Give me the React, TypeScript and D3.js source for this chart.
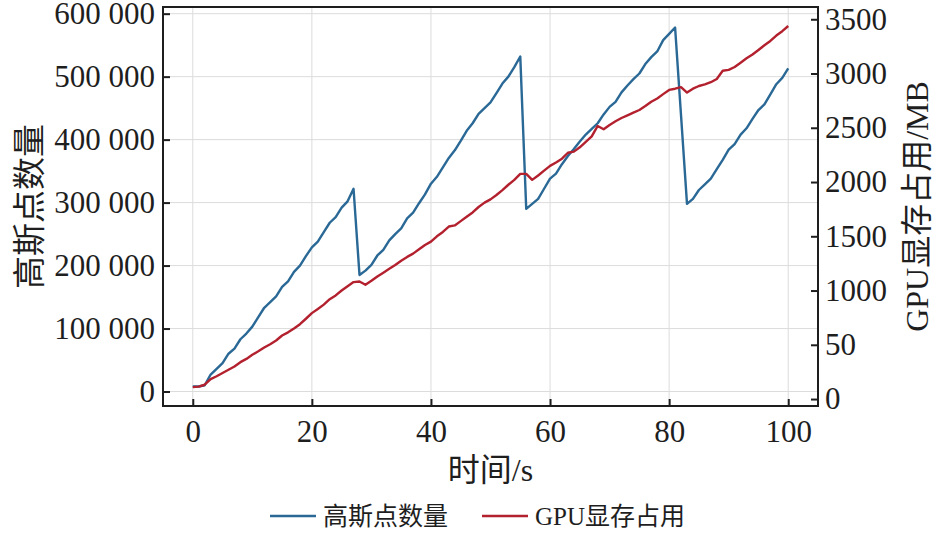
import * as d3 from "d3"
import { useEffect, useRef } from "react"

// time in seconds, one sample per second
const times = d3.range(0, 101)

// number of gaussians (left axis)
const gaussianCount = [
  8000, 8000, 10000, 27000, 36000, 45000, 60000, 68000, 83000, 92000,
  103000, 118000, 133000, 142000, 151000, 166000, 175000, 190000, 200000, 215000,
  229000, 238000, 253000, 268000, 277000, 292000, 302000, 322000, 185000, 192000,
  201000, 216000, 225000, 240000, 250000, 259000, 275000, 284000, 299000, 313000,
  330000, 341000, 356000, 371000, 383000, 398000, 414000, 426000, 441000, 450000,
  459000, 474000, 489000, 500000, 515000, 532000, 290000, 298000, 306000, 322000,
  338000, 346000, 361000, 374000, 385000, 397000, 408000, 417000, 426000, 440000,
  452000, 460000, 475000, 486000, 496000, 505000, 520000, 531000, 540000, 558000,
  568000, 578000, 438000, 298000, 306000, 320000, 329000, 338000, 353000, 368000,
  384000, 393000, 408000, 418000, 433000, 447000, 456000, 472000, 488000, 498000,
  513000,
]

// GPU memory in MB (right axis)
const gpuMemory = [
  110, 115, 132, 184, 210, 240, 270, 300, 340, 370,
  408, 440, 475, 505, 540, 586, 615, 650, 690, 740,
  792, 830, 870, 920, 955, 1000, 1040, 1078, 1083, 1053,
  1090, 1130, 1165, 1200, 1235, 1275, 1310, 1340, 1380, 1420,
  1451, 1500, 1540, 1590, 1600, 1640, 1680, 1720, 1770, 1810,
  1840, 1880, 1925, 1975, 2020, 2075, 2075, 2020, 2060, 2105,
  2149, 2180, 2215, 2270, 2280, 2320, 2370, 2420, 2517, 2487,
  2526, 2560, 2590, 2615, 2640, 2664, 2700, 2740, 2770, 2810,
  2849, 2860, 2874, 2824, 2860, 2885, 2900, 2920, 2950, 3025,
  3033, 3060, 3100, 3140, 3175, 3217, 3260, 3300, 3350, 3390,
  3438,
]

const xTicks = [0, 20, 40, 60, 80, 100]
const leftTicks = [0, 100000, 200000, 300000, 400000, 500000, 600000]
const leftTickLabels = ["0", "100 000", "200 000", "300 000", "400 000", "500 000", "600 000"]
const rightTicks = [0, 500, 1000, 1500, 2000, 2500, 3000, 3500]
const rightTickLabels = ["0", "50", "1000", "1500", "2000", "2500", "3000", "3500"]

const seriesNames = ["高斯点数量", "GPU显存占用"]
const seriesColors = ["#2a6896", "#b3202e"]

const WIDTH = 942
const HEIGHT = 534
const MARGIN = { top: 7, right: 124, bottom: 128, left: 163 }
const FONT = '"Liberation Serif", "Noto Sans CJK SC", serif'
const INK = "#1e1e1e"

const App = () => {
  const svgRef = useRef<SVGSVGElement>(null)

  useEffect(() => {
    if (!svgRef.current) return
    const svg = d3.select(svgRef.current)
    svg.selectAll("*").remove()

    const x = d3
      .scaleLinear()
      .domain([-5, 105])
      .range([MARGIN.left, WIDTH - MARGIN.right])
    const yLeft = d3
      .scaleLinear()
      .domain([-23000, 610600])
      .range([HEIGHT - MARGIN.bottom, MARGIN.top])
    const yRight = d3
      .scaleLinear()
      .domain([-64, 3613])
      .range([HEIGHT - MARGIN.bottom, MARGIN.top])

    const g = svg.append("g")

    // grid
    g.selectAll(".vgrid")
      .data(xTicks)
      .join("line")
      .attr("x1", (d) => x(d))
      .attr("x2", (d) => x(d))
      .attr("y1", MARGIN.top)
      .attr("y2", HEIGHT - MARGIN.bottom)
      .attr("stroke", "#dcdcdc")
      .attr("stroke-width", 1)
    g.selectAll(".hgrid")
      .data(leftTicks)
      .join("line")
      .attr("x1", MARGIN.left)
      .attr("x2", WIDTH - MARGIN.right)
      .attr("y1", (d) => yLeft(d))
      .attr("y2", (d) => yLeft(d))
      .attr("stroke", "#dcdcdc")
      .attr("stroke-width", 1)

    // lines
    const lineLeft = d3
      .line<number>()
      .x((_, i) => x(times[i]))
      .y((d) => yLeft(d))
    const lineRight = d3
      .line<number>()
      .x((_, i) => x(times[i]))
      .y((d) => yRight(d))

    g.append("path")
      .datum(gaussianCount)
      .attr("fill", "none")
      .attr("stroke", seriesColors[0])
      .attr("stroke-width", 2.4)
      .attr("stroke-linejoin", "round")
      .attr("d", lineLeft)
    g.append("path")
      .datum(gpuMemory)
      .attr("fill", "none")
      .attr("stroke", seriesColors[1])
      .attr("stroke-width", 2.4)
      .attr("stroke-linejoin", "round")
      .attr("d", lineRight)

    // axes
    const styleAxis = (sel: d3.Selection<SVGGElement, unknown, null, undefined>) => {
      sel.select(".domain").remove()
      sel.selectAll(".tick line").attr("stroke", INK).attr("stroke-width", 2)
      sel
        .selectAll(".tick text")
        .attr("fill", INK)
        .attr("font-family", FONT)
        .attr("font-size", 31)
    }

    g.append("g")
      .attr("transform", `translate(0, ${HEIGHT - MARGIN.bottom})`)
      .call(d3.axisBottom(x).tickValues(xTicks).tickSizeInner(-7).tickSizeOuter(0).tickPadding(14))
      .call(styleAxis)

    g.append("g")
      .attr("transform", `translate(${MARGIN.left}, 0)`)
      .call(
        d3
          .axisLeft(yLeft)
          .tickValues(leftTicks)
          .tickFormat((_, i) => leftTickLabels[i])
          .tickSizeInner(-7)
          .tickSizeOuter(0)
          .tickPadding(8),
      )
      .call(styleAxis)

    g.append("g")
      .attr("transform", `translate(${WIDTH - MARGIN.right}, 0)`)
      .call(
        d3
          .axisRight(yRight)
          .tickValues(rightTicks)
          .tickFormat((_, i) => rightTickLabels[i])
          .tickSizeInner(-7)
          .tickSizeOuter(0)
          .tickPadding(7),
      )
      .call(styleAxis)

    // frame
    g.append("rect")
      .attr("x", MARGIN.left)
      .attr("y", MARGIN.top)
      .attr("width", WIDTH - MARGIN.left - MARGIN.right)
      .attr("height", HEIGHT - MARGIN.top - MARGIN.bottom)
      .attr("fill", "none")
      .attr("stroke", INK)
      .attr("stroke-width", 2)

    // axis titles
    const plotMidY = (MARGIN.top + HEIGHT - MARGIN.bottom) / 2
    g.append("text")
      .attr("x", (MARGIN.left + WIDTH - MARGIN.right) / 2)
      .attr("y", 470)
      .attr("text-anchor", "middle")
      .attr("dominant-baseline", "central")
      .attr("font-family", FONT)
      .attr("font-size", 32)
      .attr("fill", INK)
      .text("时间/s")

    g.append("text")
      .attr("transform", `translate(30, ${plotMidY}) rotate(-90)`)
      .attr("text-anchor", "middle")
      .attr("dominant-baseline", "central")
      .attr("font-family", FONT)
      .attr("font-size", 33)
      .attr("fill", INK)
      .text("高斯点数量")

    g.append("text")
      .attr("transform", `translate(917, ${plotMidY}) rotate(-90)`)
      .attr("text-anchor", "middle")
      .attr("dominant-baseline", "central")
      .attr("font-family", FONT)
      .attr("font-size", 32)
      .attr("fill", INK)
      .text("GPU显存占用/MB")

    // legend
    const legendY = 516
    const legendX = [270, 482]
    seriesNames.forEach((name, i) => {
      g.append("line")
        .attr("x1", legendX[i])
        .attr("x2", legendX[i] + 46)
        .attr("y1", legendY)
        .attr("y2", legendY)
        .attr("stroke", seriesColors[i])
        .attr("stroke-width", 2.4)
      g.append("text")
        .attr("x", legendX[i] + 53)
        .attr("y", legendY)
        .attr("dominant-baseline", "central")
        .attr("font-family", FONT)
        .attr("font-size", 25)
        .attr("fill", INK)
        .text(name)
    })
  }, [])

  return (
    <div style={{ position: "absolute", left: 0, top: 0 }}>
      <svg
        ref={svgRef}
        width={WIDTH}
        height={HEIGHT}
        style={{ display: "block", background: "#fff" }}
      />
    </div>
  )
}

export default App
